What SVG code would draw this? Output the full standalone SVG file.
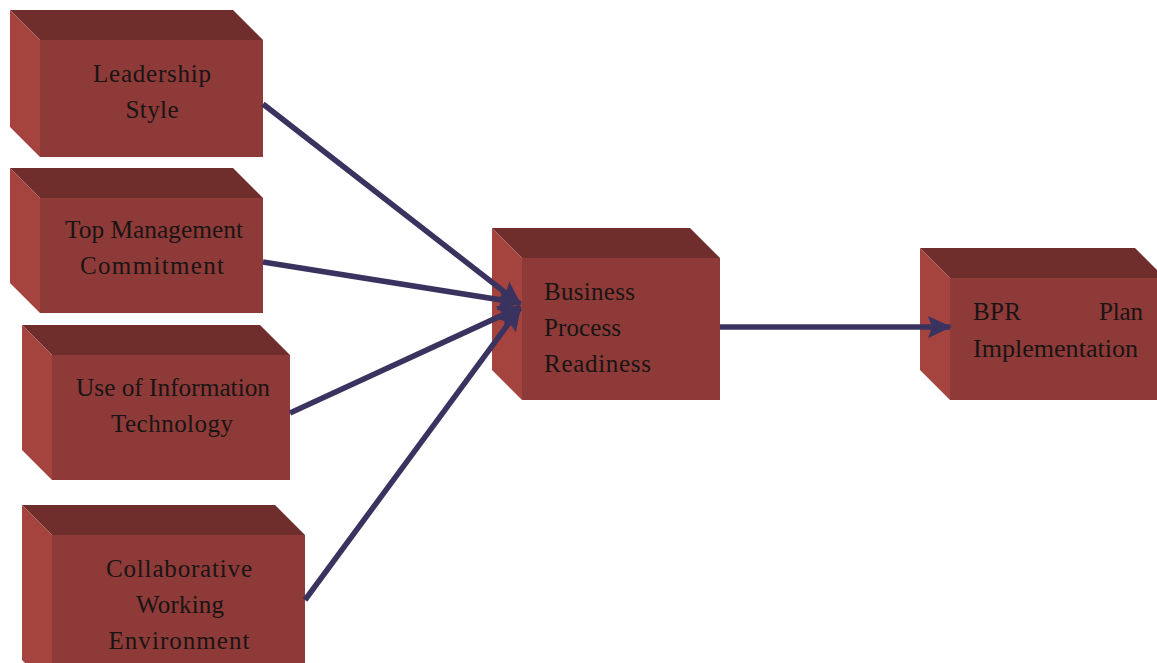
<svg xmlns="http://www.w3.org/2000/svg" width="1157" height="663" viewBox="0 0 1157 663">
<style>
.top{fill:#6f2d2c}
.left{fill:#a5433f}
.front{fill:#8d3a38}
.lbl{font-family:'Liberation Serif','Times New Roman',serif;font-size:25px;fill:#1a1414}
.c{text-anchor:middle}
.conn{stroke:#3a3360;stroke-width:5.5;fill:none;marker-end:url(#ah)}
</style>
<defs>
<marker id="ah" markerUnits="userSpaceOnUse" markerWidth="24" markerHeight="22" viewBox="0 0 24 22" refX="22" refY="11" orient="auto">
<path d="M0,0 L24,11 L0,22 L4,11 z" fill="#3a3360"/>
</marker>
</defs>
<rect width="1157" height="663" fill="#ffffff"/>
<g id="leadership">
<polygon class="top" points="10,10 233,10 263,40 40,40"/>
<polygon class="left" points="10,10 40,40 40,157 10,127"/>
<rect class="front" x="40" y="40" width="223" height="117"/>
<text class="lbl c" x="152" y="82" textLength="118" lengthAdjust="spacing">Leadership</text>
<text class="lbl c" x="152" y="118" textLength="53" lengthAdjust="spacing">Style</text>
</g>
<g id="topmgmt">
<polygon class="top" points="10,168 233,168 263,198 40,198"/>
<polygon class="left" points="10,168 40,198 40,313 10,283"/>
<rect class="front" x="40" y="198" width="223" height="115"/>
<text class="lbl c" x="154" y="238" textLength="178" lengthAdjust="spacingAndGlyphs">Top Management</text>
<text class="lbl c" x="152" y="274" textLength="144" lengthAdjust="spacing">Commitment</text>
</g>
<g id="useit">
<polygon class="top" points="22,325 260,325 290,355 52,355"/>
<polygon class="left" points="22,325 52,355 52,480 22,450"/>
<rect class="front" x="52" y="355" width="238" height="125"/>
<text class="lbl c" x="173" y="396" textLength="194" lengthAdjust="spacingAndGlyphs">Use of Information</text>
<text class="lbl c" x="172" y="432" textLength="122" lengthAdjust="spacing">Technology</text>
</g>
<g id="collab">
<polygon class="top" points="22,505 275,505 305,535 52,535"/>
<polygon class="left" points="22,505 52,535 52,690 22,660"/>
<rect class="front" x="52" y="535" width="253" height="155"/>
<text class="lbl c" x="179" y="577" textLength="146" lengthAdjust="spacing">Collaborative</text>
<text class="lbl c" x="180" y="613" textLength="88" lengthAdjust="spacing">Working</text>
<text class="lbl c" x="179" y="649" textLength="141" lengthAdjust="spacing">Environment</text>
</g>
<g id="bpreadiness">
<polygon class="top" points="492,228 690,228 720,258 522,258"/>
<polygon class="left" points="492,228 522,258 522,400 492,370"/>
<rect class="front" x="522" y="258" width="198" height="142"/>
<text class="lbl" x="544" y="300" textLength="91" lengthAdjust="spacing">Business</text>
<text class="lbl" x="544" y="336" textLength="77" lengthAdjust="spacing">Process</text>
<text class="lbl" x="544" y="372" textLength="107" lengthAdjust="spacing">Readiness</text>
</g>
<g id="bprplan">
<polygon class="top" points="920,248 1135,248 1165,278 950,278"/>
<polygon class="left" points="920,248 950,278 950,400 920,370"/>
<rect class="front" x="950" y="278" width="215" height="122"/>
<text class="lbl" x="973" y="320" textLength="48" lengthAdjust="spacing">BPR</text>
<text class="lbl" x="1099" y="320" textLength="44" lengthAdjust="spacing">Plan</text>
<text class="lbl" x="973" y="357" textLength="165" lengthAdjust="spacingAndGlyphs">Implementation</text>
</g>
<g id="connectors">
<line class="conn" x1="263" y1="104" x2="520" y2="304"/>
<line class="conn" x1="263" y1="262" x2="520" y2="303"/>
<line class="conn" x1="290" y1="413" x2="520" y2="307"/>
<line class="conn" x1="305" y1="600" x2="520" y2="308"/>
<line class="conn" x1="720" y1="327" x2="950" y2="327"/>
</g>
</svg>
